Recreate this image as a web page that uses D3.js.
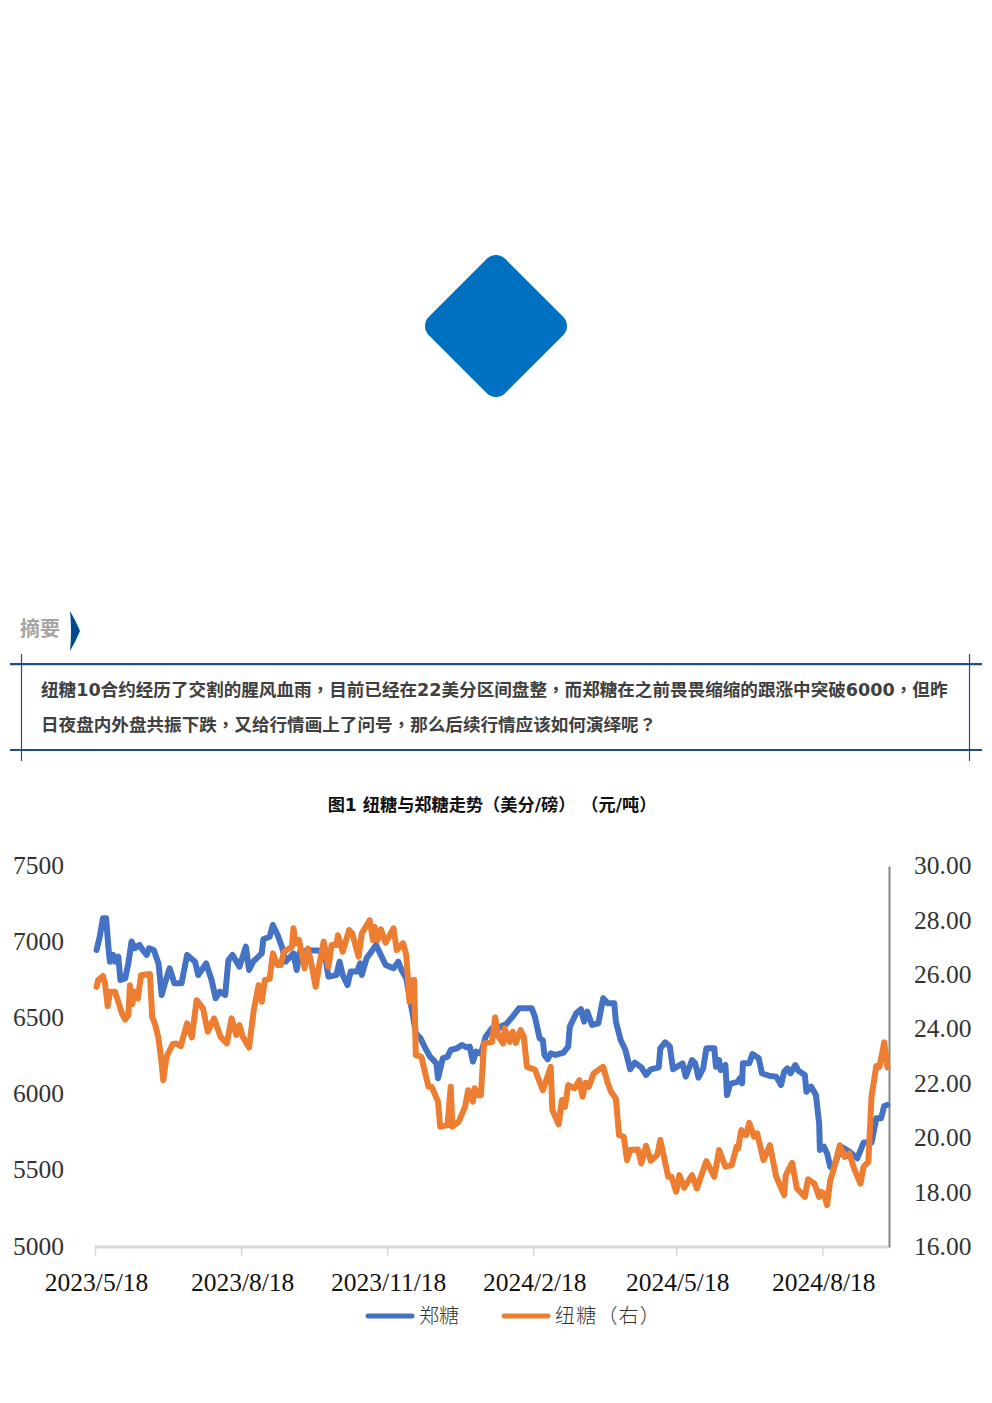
<!DOCTYPE html>
<html><head><meta charset="utf-8">
<script src="https://cdn.jsdelivr.net/npm/d3@7/dist/d3.min.js"></script>
<style>html,body{margin:0;padding:0;background:#fff}svg{display:block}</style>
</head><body><svg id="c" width="992" height="1403"></svg>
<script>
const startDate = new Date(2023,4,18);
const tickDates = [[2023,4,18],[2023,7,18],[2023,10,18],[2024,1,18],[2024,4,18],[2024,7,18]].map(d=>new Date(d[0],d[1],d[2]));
const tickLabels = ["2023/5/18","2023/8/18","2023/11/18","2024/2/18","2024/5/18","2024/8/18"];
const leftTicks = [5000,5500,6000,6500,7000,7500];
const rightTicks = [16,18,20,22,24,26,28,30];
const seriesNames = ["郑糖","纽糖（右）"];
const summaryHead = "摘要";
const summaryLines = ["纽糖10合约经历了交割的腥风血雨，目前已经在22美分区间盘整，而郑糖在之前畏畏缩缩的跟涨中突破6000，但昨","日夜盘内外盘共振下跌，又给行情画上了问号，那么后续行情应该如何演绎呢？"];
const chartTitle = "图1 纽糖与郑糖走势（美分/磅） （元/吨）";

// days since 2023/5/18, value
const zhengDays = [1,3,5,7,8.4,9.4,11.5,12.6,14.7,16,19,21,23,25,28,30,32.5,34,37,40,42,44,47,50,54.5,58,63,65,70,73.4,76,78.6,82,84,86.6,91,95,97,99.6,105,106,110,112,115,118,120,125,127,129,135,141,145,147,152,154,156,159,161,165,167,168,171,174,177,180,183,188,191,193,196,198,200,202,205,208,211,215,216,219,222,224,228,231,234,236,238,240,243,246,250,253,256,259,263,267,275,277,280,282,283,285,287,290,295,298,299,303,306,308,310,313,317,320,323,327,328,331,334,337,340,344,347,350,355,356,359,362,364,370,372,376,378,380,383,385,390,391,393,394,397,398,400,405,406,407.5,408,412,414,418,420,425,429,432,434,436,438,441,443,447,448,451,454,456,456.5,459,461,463,466,470,475,480,484,489,492,495,497,499];
const zhengValues = [6949,7036,7157,7157,6971,6872,6916,6872,6905,6752,6763,6861,7004,6960,6982,6949,6916,6960,6949,6861,6654,6730,6829,6730,6730,6916,6872,6785,6861,6752,6632,6676,6654,6883,6916,6840,6971,6818,6872,6927,7019,7036,7113,7047,6960,6872,6927,6818,6938,6945,6945,6905,6774,6785,6872,6785,6719,6807,6807,6861,6785,6894,6938,6982,6916,6851,6829,6872,6818,6763,6643,6533,6402,6369,6304,6249,6205,6107,6238,6249,6293,6304,6326,6310,6315,6216,6282,6267,6380,6435,6424,6450,6463,6512,6566,6566,6512,6369,6358,6260,6232,6271,6260,6275,6315,6446,6533,6560,6479,6544,6457,6468,6632,6599,6599,6479,6358,6293,6166,6210,6179,6129,6166,6179,6304,6343,6315,6166,6205,6118,6227,6205,6111,6172,6304,6304,6183,6227,6161,6194,5997,6070,6085,6107,6074,6205,6205,6266,6238,6140,6122,6118,6063,6151,6172,6140,6194,6157,6129,6019,6052,5997,5812,5637,5658,5615,5527,5549,5658,5626,5582,5685,5685,5844,5844,5925,5932];
const niuDays = [1,2,5,6.3,8,9.4,12.6,15,17,19,21,22,23.5,25,27,29,34.6,36,38,40,42,43,45,49,51,54,58,61,64,68,71,75,79,83,86,89,91,93,97,100,103,105,107,110,112,115,117,119,124,125,126.4,128.5,132,134,136,139,141,144,147,149,152,153,156,160,162,166,168,173,175,176,178,180,183,188,190,194,196,198,200,201,202,205.5,210,212,216,217.4,222,224,225,229,233,235,238,239,241,243,245,250,252,254,257,258,261,263,265,268,270,272,277,282,287,288,292,294,296,298,302,305,307,309,311,314,320,323,325,328,330,333,335,337,342,344,347,350,354,356,361,363,366,368,371,376,379,385,390,393,397,401,404,405,407,410,412,415,417,421,425,429,434,435,439,442,447,449,453,456,457,459,461,463,465,469,472,475,478,482,484,487,489,492,494,497,499];
const niuValues = [25.56,25.81,25.96,25.69,24.85,25.38,25.38,24.95,24.58,24.36,24.52,25.62,24.93,25.38,25.13,25.99,26.03,24.46,24.15,23.66,22.74,22.13,22.99,23.46,23.48,23.38,24.22,23.70,25.07,24.77,23.91,24.40,23.73,23.48,24.40,23.79,24.15,23.73,23.33,24.71,25.62,25.01,25.81,25.85,26.79,26.36,26.36,26.85,27.03,27.71,27.16,27.28,26.24,26.97,26.48,25.56,26.30,27.22,26.30,27.10,27.10,27.46,26.85,27.65,27.52,26.67,27.52,28.01,27.28,27.77,27.28,27.67,27.18,27.71,26.91,27.16,26.73,25.01,25.81,25.81,23.05,22.99,21.89,21.89,21.34,20.42,20.48,21.89,20.42,20.60,21.15,21.76,21.34,21.83,21.58,21.58,23.48,23.54,24.44,23.73,23.48,24.03,23.54,23.91,23.50,23.97,23.73,22.62,22.52,21.76,22.62,21.03,20.51,21.40,21.15,21.95,21.83,22.13,21.52,22.03,21.89,22.38,22.62,22.01,21.70,21.46,20.11,20.05,19.19,19.56,19.58,19.07,19.72,19.17,19.38,19.93,18.58,18.58,18.03,18.64,18.18,18.64,18.15,19.16,18.58,19.56,18.95,19.01,19.68,19.62,20.30,20.11,20.56,20.05,20.17,19.19,19.74,18.58,17.91,18.64,19.09,18.15,17.84,18.49,18.33,17.84,18.03,17.97,17.54,18.46,18.82,19.74,19.31,19.44,18.89,18.33,18.95,19.13,21.52,22.65,22.62,23.52,22.60];

const blue="#4472C4", orange="#ED7D31", navy="#1F4E85";
const svg=d3.select("#c");
const sansBold="'DejaVu Sans','Noto Sans CJK SC',sans-serif";
const axisFont="'Liberation Serif','Noto Sans CJK SC',serif";
const punct="'Noto Sans CJK TC',sans-serif";

// text with fullwidth punctuation centred in its cell
function richText(sel,t){
  t.split(/([，？])/).filter(s=>s).forEach(s=>{
    const ts=sel.append("tspan").text(s);
    if(/[，？]/.test(s)) ts.attr("font-family",punct);
  });
}

// decorative diamond
svg.append("rect").attr("x",496-54).attr("y",326-54).attr("width",108).attr("height",108).attr("rx",13)
  .attr("fill","#0070C0").attr("transform","rotate(45 496 326)");

// summary block
svg.append("text").attr("x",20).attr("y",636).attr("font-family",sansBold).attr("font-weight",700).attr("font-size",20).attr("fill","#A6A6A6").text(summaryHead);
svg.append("path").attr("d","M70,611Q76,621 80,631Q76,641 70,651Q72,631 70,611Z").attr("fill","#004B8D");
[664,750].forEach(y=>svg.append("line").attr("x1",10).attr("x2",982).attr("y1",y).attr("y2",y).attr("stroke",navy).attr("stroke-width",2));
svg.append("line").attr("x1",10).attr("x2",982).attr("y1",665.5).attr("y2",665.5).attr("stroke","#BDD7EE").attr("stroke-width",1);
[21.5,969.5].forEach(x=>svg.append("line").attr("x1",x).attr("x2",x).attr("y1",654).attr("y2",761).attr("stroke",navy).attr("stroke-width",1.2));
summaryLines.forEach((t,i)=>richText(svg.append("text").attr("x",41).attr("y",696+i*35).attr("font-family",sansBold).attr("font-weight",700).attr("font-size",17.58).attr("fill","#404040"),t));
svg.append("text").attr("x",492).attr("y",811).attr("text-anchor","middle").attr("font-family",sansBold).attr("font-weight",700).attr("font-size",17.2).attr("fill","#111").text(chartTitle);

// scales
const x=d3.scaleTime().domain([startDate,d3.timeDay.offset(startDate,500)]).range([95,889]);
const yL=d3.scaleLinear().domain([5000,7500]).range([1247,866]);
const yR=d3.scaleLinear().domain([16,30]).range([1247,866]);
const toDate=d=>new Date(startDate.getTime()+d*864e5);

// axes
const gx=svg.append("g").attr("transform","translate(0,1247)")
  .call(d3.axisBottom(x).tickValues(tickDates).tickFormat((d,i)=>tickLabels[i]).tickSize(9).tickPadding(17));
gx.select(".domain").attr("stroke","#D9D9D9").attr("stroke-width",3).attr("d","M95,0H889");
gx.selectAll(".tick line").attr("stroke","#D9D9D9").attr("stroke-width",1.5);
gx.selectAll("text").attr("font-family",axisFont).attr("font-size",25.5).attr("fill","#111").attr("dx",1);
const gl=svg.append("g").attr("transform","translate(64,-1)")
  .call(d3.axisLeft(yL).tickValues(leftTicks).tickFormat(d3.format("d")).tickSize(0).tickPadding(0));
gl.select(".domain").remove();
gl.selectAll("text").attr("font-family",axisFont).attr("font-size",25.5).attr("fill","#333");
const gr=svg.append("g").attr("transform","translate(889,0)")
  .call(d3.axisRight(yR).tickValues(rightTicks).tickFormat(d3.format(".2f")).tickSize(0).tickPadding(25));
gr.select(".domain").attr("stroke","#868686").attr("stroke-width",2);
gr.selectAll("text").attr("font-family",axisFont).attr("font-size",25.5).attr("fill","#333").attr("dy","0.3em");

// lines
const lineL=d3.line().x(d=>x(toDate(d[0]))).y(d=>yL(d[1]));
const lineR=d3.line().x(d=>x(toDate(d[0]))).y(d=>yR(d[1]));
svg.append("path").attr("d",lineL(d3.zip(zhengDays,zhengValues))).attr("fill","none").attr("stroke",blue).attr("stroke-width",6).attr("stroke-linejoin","round").attr("stroke-linecap","round");
svg.append("path").attr("d",lineR(d3.zip(niuDays,niuValues))).attr("fill","none").attr("stroke",orange).attr("stroke-width",6).attr("stroke-linejoin","round").attr("stroke-linecap","round");

// legend
[[366,419,blue,0],[502,555,orange,1.2]].forEach((l,i)=>{
  svg.append("line").attr("x1",l[0]+2).attr("x2",l[0]+46).attr("y1",1316).attr("y2",1316).attr("stroke",l[2]).attr("stroke-width",5).attr("stroke-linecap","round");
  svg.append("text").attr("x",l[1]).attr("y",1323).attr("font-family",punct).attr("font-weight",300).attr("font-size",20).attr("letter-spacing",l[3]).attr("fill","#333").text(seriesNames[i]);
});
</script></body></html>
